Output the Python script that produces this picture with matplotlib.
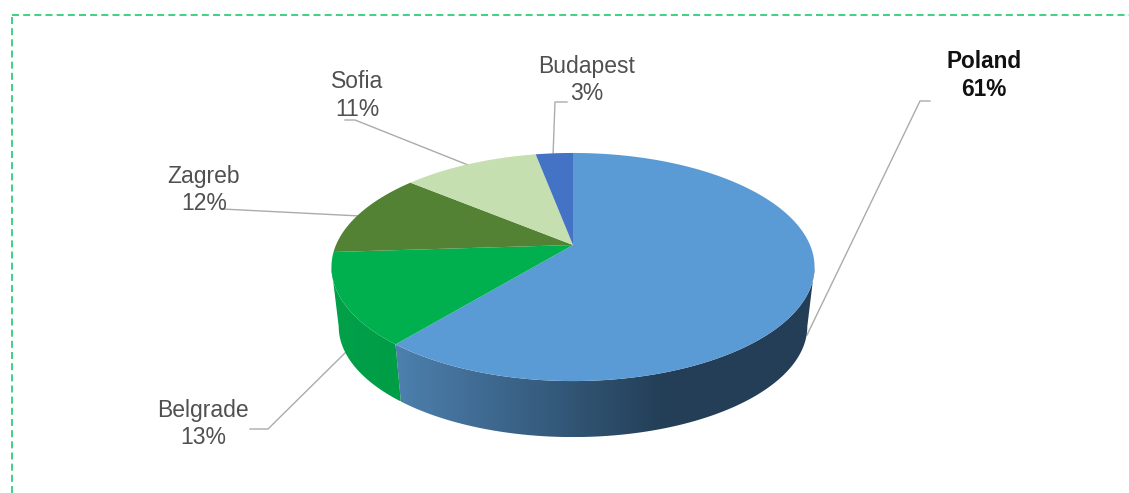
import matplotlib

matplotlib.use("Agg")

import matplotlib.pyplot as plt
import numpy as np
from matplotlib.colors import to_rgb
from matplotlib.patches import Polygon

cities = ["Poland", "Belgrade", "Zagreb", "Sofia", "Budapest"]
shares = [61, 13, 12, 11, 3]
top_colors = ["#5B9BD5", "#00B04F", "#548235", "#C5DFB0", "#4472C4"]
wall_left = {"Poland": "#4D80AE", "Belgrade": "#00A049"}
wall_right = {"Poland": "#233E56", "Belgrade": "#00923F"}

# label centre x, first line y, second line y
label_pos = [(984, 62, 89), (203, 411, 438), (204, 176, 203), (357, 82, 110), (587, 66, 94)]
leaders = [
    [(807, 335), (920, 101), (930, 101)],
    [(250, 429), (268, 429), (346, 352)],
    [(222, 209), (360, 216)],
    [(345, 120), (355, 120), (468, 165)],
    [(567, 102), (555, 102), (553, 156)],
]

# Pie geometry in pixels, perspective tilt keeps the apex above the ellipse centre
APEX_X, APEX_Y = 573.0, 245.0
RX, RY, TILT = 237.0, 109.8, 0.193
BASE_DROP, BASE_SCALE = 60.1, 0.97
GRADIENT_END_X = 665.0


def project(theta, scale=1.0, drop=0.0):
    """Clockwise angle from 12 o'clock to pixel position on the disc rim."""
    u, v = np.sin(theta), np.cos(theta)
    w = 1 + TILT * v
    return APEX_X + scale * RX * u / w, APEX_Y + drop - scale * RY * v / w


def draw_wall(ax, city, t0, t1, zorder):
    """Outer wall of one slice, a horizontal gradient clipped to the rim band."""
    t = np.linspace(t0, t1, 300)
    tx, ty = project(t)
    bx, by = project(t, BASE_SCALE, BASE_DROP)
    band = np.column_stack([np.r_[tx, bx[::-1]], np.r_[ty, by[::-1]]])
    x_lo, x_hi = band[:, 0].min(), band[:, 0].max()

    # gradient runs from the slice's left end across to GRADIENT_END_X
    xs = np.linspace(x_lo, x_hi, 400)
    f = np.clip((xs - x_lo) / (GRADIENT_END_X - x_lo), 0, 1)[:, None]
    c0, c1 = np.array(to_rgb(wall_left[city])), np.array(to_rgb(wall_right[city]))
    strip = (c0 + (c1 - c0) * f)[None, :, :]

    im = ax.imshow(strip, extent=(x_lo, x_hi, band[:, 1].max(), band[:, 1].min()),
                   aspect="auto", interpolation="bilinear", zorder=zorder)
    im.set_clip_path(Polygon(band, closed=True, transform=ax.transData))


fig = plt.figure(figsize=(11.29, 4.93), dpi=100)
ax = fig.add_axes([0, 0, 1, 1])
ax.axis("off")

# Dashed frame, only the top and left edges are in view
dash = (0, (4.2, 2.5))
ax.plot([12, 1129], [14.5, 14.5], color="#1FCB6E", lw=1.2, ls=dash, zorder=1)
ax.plot([11.5, 11.5], [17, 493], color="#1FCB6E", lw=1.2, ls=dash, zorder=1)

for pts in leaders:
    xs, ys = zip(*pts)
    ax.plot(xs, ys, color="#ABABAB", lw=1.0, zorder=2)

edges = np.cumsum([0] + shares) / sum(shares) * 2 * np.pi

# Only the front of the rim shows, between the two widest points of the disc
widest = np.arccos(-TILT)
draw_wall(ax, "Poland", widest, edges[1], 3)
draw_wall(ax, "Belgrade", edges[1], 2 * np.pi - widest, 3)

for i in range(len(shares)):
    t = np.linspace(edges[i], edges[i + 1], 200)
    tx, ty = project(t)
    outline = np.column_stack([np.r_[APEX_X, tx], np.r_[APEX_Y, ty]])
    ax.add_patch(Polygon(outline, closed=True, facecolor=top_colors[i], edgecolor="none", zorder=4))

for i, city in enumerate(cities):
    cx, y1, y2 = label_pos[i]
    bold = i == 0
    style = dict(
        family=["Liberation Sans", "DejaVu Sans"],
        fontsize=16.3 if bold else 16.5,
        fontweight="bold" if bold else "normal",
        color="#111111" if bold else "#505050",
        ha="center",
        va="center",
        zorder=6,
    )
    ax.text(cx, y1, city, **style)
    ax.text(cx, y2, f"{shares[i]}%", **style)

ax.set_xlim(0, 1129)
ax.set_ylim(493, 0)

fig.savefig("out.png", dpi=100, facecolor="white")
